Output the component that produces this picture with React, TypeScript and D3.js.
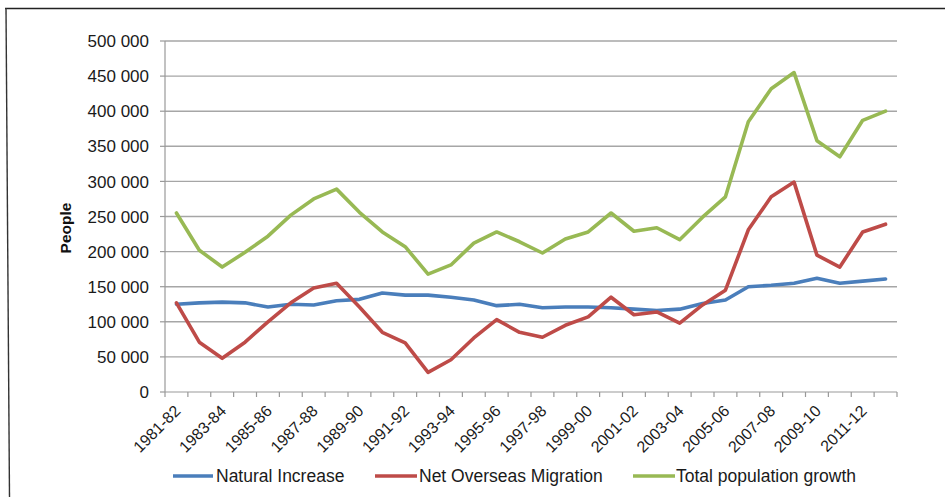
import React from "react";
import * as d3 from "d3";

const years: string[] = [
  "1981-82","1982-83","1983-84","1984-85","1985-86","1986-87","1987-88","1988-89",
  "1989-90","1990-91","1991-92","1992-93","1993-94","1994-95","1995-96","1996-97",
  "1997-98","1998-99","1999-00","2000-01","2001-02","2002-03","2003-04","2004-05",
  "2005-06","2006-07","2007-08","2008-09","2009-10","2010-11","2011-12","2012-13",
];

const naturalIncrease: number[] = [
  125000,127000,128000,127000,121000,125000,124000,130000,
  132000,141000,138000,138000,135000,131000,123000,125000,
  120000,121000,121000,120000,118000,116000,118000,126000,
  131000,150000,152000,155000,162000,155000,158000,161000,
];

const netOverseasMigration: number[] = [
  127000,71000,48000,71000,100000,127000,148000,155000,
  121000,85000,70000,28000,46000,77000,103000,85000,
  78000,95000,107000,135000,110000,114000,98000,124000,
  145000,231000,278000,299000,195000,178000,228000,239000,
];

const totalGrowth: number[] = [
  255000,202000,178000,199000,222000,252000,275000,289000,
  256000,228000,207000,168000,181000,212000,228000,214000,
  198000,218000,228000,255000,229000,234000,217000,249000,
  278000,385000,432000,455000,358000,335000,387000,400000,
];

const yTicks: number[] = [0, 50000, 100000, 150000, 200000, 250000, 300000, 350000, 400000, 450000, 500000];

const seriesNames: string[] = ["Natural Increase", "Net Overseas Migration", "Total population growth"];
const seriesColors: string[] = ["#4a7ebb", "#be4b48", "#98b954"];

const FONT = "'Liberation Sans', Arial, sans-serif";

export default function App() {
  const W = 945, H = 497;
  const left = 165, right = 897, top = 41, bottom = 392;

  const x = d3.scaleBand<string>().domain(years).range([left, right]).paddingInner(0).paddingOuter(0);
  const y = d3.scaleLinear().domain([0, 500000]).range([bottom, top]);
  const cx = (d: string) => (x(d) as number) + x.bandwidth() / 2;

  const line = d3.line<number>()
    .x((_, i) => cx(years[i]))
    .y((v) => y(v));

  const fmt = (v: number) => d3.format(",")(v).replace(/,/g, " ");

  const allSeries = [naturalIncrease, netOverseasMigration, totalGrowth];

  const legendItems = [
    { x1: 173, x2: 213, tx: 216 },
    { x1: 375, x2: 417, tx: 419 },
    { x1: 633, x2: 675, tx: 676 },
  ];

  const boundaries = years.map((d) => x(d) as number).concat([right]);

  return (
    <svg width={W} height={H} style={{ position: "absolute", left: 0, top: 0, background: "#fff" }} fontFamily={FONT}>
      <rect x={0} y={0} width={W} height={H} fill="#fff" />
      {/* frame */}
      <line x1={5} y1={8.5} x2={W} y2={8.5} stroke="#222" strokeWidth={1.6} />
      <line x1={6} y1={8} x2={9.5} y2={H} stroke="#333" strokeWidth={1.4} />

      {/* gridlines */}
      {yTicks.filter((t) => t > 0).map((t) => (
        <line key={"g" + t} x1={left} x2={right} y1={y(t)} y2={y(t)} stroke="#a6a6a6" strokeWidth={1.4} />
      ))}
      {/* y axis */}
      <line x1={left} x2={left} y1={top} y2={bottom} stroke="#999" strokeWidth={1.2} />
      {yTicks.map((t) => (
        <g key={"yt" + t}>
          <line x1={left - 5} x2={left} y1={y(t)} y2={y(t)} stroke="#999" strokeWidth={1.2} />
          <text x={149} y={y(t)} dy="0.36em" textAnchor="end" fontSize={17} fill="#1a1a1a">{fmt(t)}</text>
        </g>
      ))}
      {/* x axis */}
      <line x1={left} x2={right} y1={bottom} y2={bottom} stroke="#999" strokeWidth={1.2} />
      {boundaries.map((b, i) => (
        <line key={"xt" + i} x1={b} x2={b} y1={bottom} y2={bottom + 5} stroke="#999" strokeWidth={1.2} />
      ))}
      {years.map((d, i) => i % 2 === 0 ? (
        <text key={"xl" + d} transform={`translate(${cx(d) + 5},${bottom + 20}) rotate(-45)`} textAnchor="end" fontSize={16} fill="#1a1a1a">{d}</text>
      ) : null)}

      {/* y label */}
      <text transform={`translate(71,228) rotate(-90)`} textAnchor="middle" fontSize={15.5} fontWeight="bold" fill="#111">People</text>

      {/* series */}
      {allSeries.map((s, k) => (
        <path key={"s" + k} d={line(s) || ""} fill="none" stroke={seriesColors[k]} strokeWidth={3.6} strokeLinejoin="round" strokeLinecap="round" />
      ))}

      {/* legend */}
      {seriesNames.map((n, k) => (
        <g key={"lg" + k}>
          <line x1={legendItems[k].x1} x2={legendItems[k].x2} y1={476} y2={476} stroke={seriesColors[k]} strokeWidth={3.6} />
          <text x={legendItems[k].tx} y={482} fontSize={17.5} fill="#1a1a1a">{n}</text>
        </g>
      ))}
    </svg>
  );
}
